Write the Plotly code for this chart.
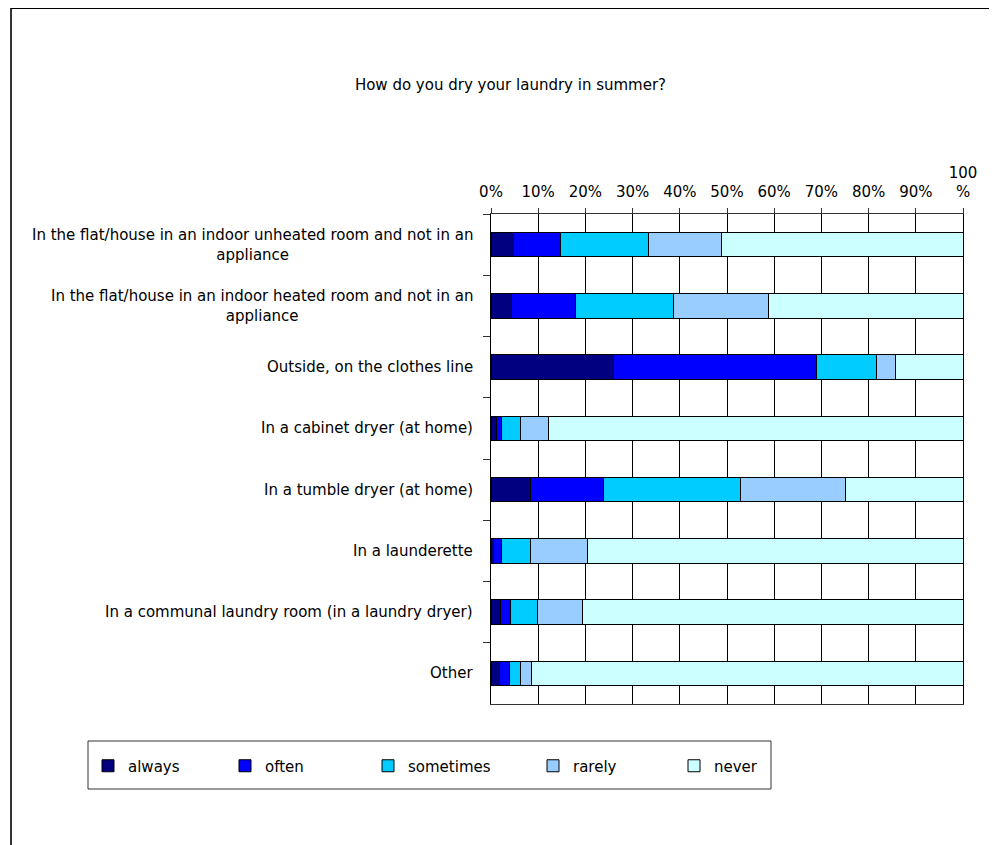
import plotly.graph_objects as go

categories = [
    "In the flat/house in an indoor unheated room and not in an<br>appliance",
    "In the flat/house in an indoor heated room and not in an<br>appliance",
    "Outside, on the clothes line",
    "In a cabinet dryer (at home)",
    "In a tumble dryer (at home)",
    "In a launderette",
    "In a communal laundry room (in a laundry dryer)",
    "Other",
]
series = ["always", "often", "sometimes", "rarely", "never"]
always = [4.7, 4.4, 26.0, 1.1, 8.3, 0.6, 2.0, 1.8]
often = [10.1, 13.5, 43.0, 1.2, 15.6, 1.7, 2.2, 2.1]
sometimes = [18.6, 20.8, 12.6, 3.9, 28.9, 6.0, 5.7, 2.3]
rarely = [15.4, 20.0, 4.2, 5.9, 22.2, 12.2, 9.5, 2.3]
never = [51.2, 41.3, 14.2, 87.9, 25.0, 79.5, 80.6, 91.5]
tick_vals = [0, 10, 20, 30, 40, 50, 60, 70, 80, 90, 100]
tick_text = ["0%", "10%", "20%", "30%", "40%", "50%", "60%", "70%", "80%", "90%", "100<br>%"]

colors = ["#000080", "#0000FF", "#00CCFF", "#99CCFF", "#CCFFFF"]
values = [always, often, sometimes, rarely, never]

FONT = "DejaVu Sans, Arial, sans-serif"
FS = 15
OFF = 8  # page body margin
W, H = 997 - OFF, 845 - OFF
# plot area in page pixels: x 490.7..963.3, y 214..704
L = 491 - OFF
R = W - (963 - OFF)
T = 214 - OFF
B = H - (704 - OFF)
pw, ph = W - L - R, H - T - B


def px_x(x):
    return (x - OFF - L) / pw


def px_y(y):
    return (H - B - (y - OFF)) / ph


fig = go.Figure()
legend_ids = ["legend", "legend2", "legend3", "legend4", "legend5"]
for name, vals, col, lg in zip(series, values, colors, legend_ids):
    fig.add_trace(go.Bar(
        y=categories, x=vals, name=name, orientation="h", legend=lg,
        marker=dict(color=col, line=dict(color="black", width=1)),
    ))

# category labels, centred lines like the original
for c in categories:
    fig.add_annotation(x=0, xref="paper", y=c, yref="y", text=c, showarrow=False,
                       xanchor="right", align="center", xshift=-16,
                       font=dict(family=FONT, size=FS, color="black"))

# outer chart frame
fig.add_shape(type="line", xref="paper", yref="paper", x0=px_x(11), x1=px_x(11),
              y0=px_y(8), y1=px_y(850), line=dict(color="#333333", width=2))
fig.add_shape(type="line", xref="paper", yref="paper", x0=px_x(11), x1=px_x(994),
              y0=px_y(8), y1=px_y(8), line=dict(color="black", width=2))
fig.add_shape(type="line", xref="paper", yref="paper", x0=px_x(994), x1=px_x(994),
              y0=px_y(8), y1=px_y(850), line=dict(color="#bbbbbb", width=1))
# legend box
fig.add_shape(type="rect", xref="paper", yref="paper", x0=px_x(88), x1=px_x(771),
              y0=px_y(741), y1=px_y(789), line=dict(color="#333333", width=1),
              fillcolor="white", layer="below")

# one legend per series so entries sit where the original puts them
swatch_left = [107, 244, 387, 552, 693]
legends = {}
for lg, sx in zip(legend_ids, swatch_left):
    legends[lg] = dict(orientation="h", x=px_x(sx - 5 - 14), xanchor="left",
                       y=px_y(766), yanchor="middle", bgcolor="rgba(0,0,0,0)",
                       borderwidth=0, font=dict(family=FONT, size=FS, color="black"))

fig.update_layout(
    width=W, height=H,
    margin=dict(l=L, r=R, t=T, b=B),
    barmode="stack", bargap=0.6,
    plot_bgcolor="white", paper_bgcolor="white",
    font=dict(family=FONT, size=FS, color="black"),
    title=dict(text="How do you dry your laundry in summer?", x=(510.5 - OFF) / W,
               xref="container", xanchor="center", y=1 - (85 - OFF) / H, yref="container",
               yanchor="middle", font=dict(family=FONT, size=FS, color="black")),
    xaxis=dict(side="top", range=[0, 100], tickvals=tick_vals, ticktext=tick_text,
               tickangle=0,
               showgrid=True, gridcolor="black", gridwidth=1, zeroline=False,
               showline=True, linecolor="#333333", linewidth=1, mirror=True,
               ticks="outside", ticklen=5, tickcolor="#333333", ticklabelstandoff=5,
               tickfont=dict(family=FONT, size=FS, color="black")),
    yaxis=dict(type="category", autorange="reversed", showticklabels=False,
               ticks="outside", ticklen=7, tickcolor="#333333", tickson="boundaries",
               showgrid=False, showline=True, linecolor="black", linewidth=1, mirror=True),
    showlegend=True,
    **legends,
)

fig.write_html("out.html")
